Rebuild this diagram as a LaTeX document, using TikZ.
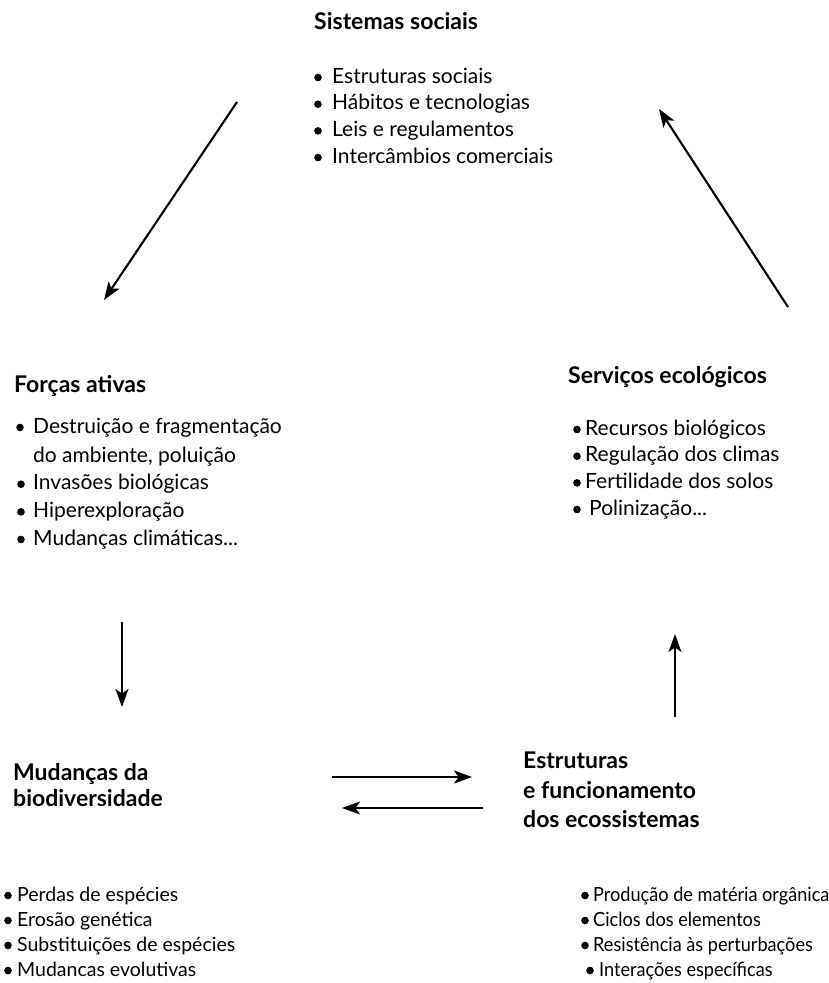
\documentclass[tikz,border=0pt]{standalone}
\usepackage{fontspec}
\setmainfont{Lato}
\newfontfamily\estreita[FakeStretch=0.93]{Lato}
\usepackage{tikz}
\usetikzlibrary{arrows.meta}
\tikzstyle{every node}=[font=\fontsize{21}{25}\selectfont, inner sep=0pt, anchor=base west]
\tikzstyle{titulo}=[font=\fontsize{23}{27}\selectfont\bfseries]
\tikzstyle{rodape}=[font=\fontsize{19.5}{23}\selectfont]
\tikzstyle{rodapeb}=[font=\fontsize{19.5}{23}\estreita]
\tikzstyle{seta}=[line width=2.1pt, -{Stealth[length=18pt,width=13pt,inset=4.5pt]}]

\begin{document}
\begin{tikzpicture}[x=1pt,y=-1pt]
            \useasboundingbox (0,0) rectangle (829,983);
            \def\rb{3.8pt}

            \node[titulo] (sist) at (314,29) {Sistemas sociais};
            \foreach \txt [count=\i] in {Estruturas sociais, Hábitos e tecnologias, Leis e regulamentos, Intercâmbios comerciais}{
                \node (sist\i) at (332,56.3+26.7*\i) {\txt};
                \fill (318,50.8+26.7*\i) circle (\rb);
            }

            \node[titulo] (forc) at (14,392) {Forças ativas};
            \node (forc1) at (33,433) {Destruição e fragmentação};
            \node (forc1b) at (33,462) {do ambiente, poluição};
            \fill (20,427.5) circle (\rb);
            \foreach \txt [count=\i from 2] in {Invasões biológicas, Hiperexploração}{
                \node (forc\i) at (33,434.3+27.7*\i) {\txt};
                \fill (21,428.8+27.7*\i) circle (\rb);
            }
            \node (forc4) at (33,545) {Mudanças climáticas...};
            \fill (21,539.5) circle (\rb);

            \node[titulo] (serv) at (568,383) {Serviços ecológicos};
            \foreach \txt [count=\i] in {Recursos biológicos, Regulação dos climas, Fertilidade dos solos}{
                \node (serv\i) at (585,408.3+26.7*\i) {\txt};
                \fill (577,402.8+26.7*\i) circle (\rb);
            }
            \node (serv4) at (589,515) {Polinização...};
            \fill (577,509.5) circle (\rb);

            \node[titulo] (mud1) at (13,780) {Mudanças da};
            \node[titulo] (mud2) at (13,806) {biodiversidade};

            \node[titulo] (estr1) at (523,768) {Estruturas};
            \node[titulo] (estr2) at (523,798) {e funcionamento};
            \node[titulo] (estr3) at (523,827) {dos ecossistemas};

            \foreach \txt [count=\i] in {Perdas de espécies, Erosão genética, Substituições de espécies, Mudancas evolutivas}{
                \node[rodape] (perd\i) at (17,876+25*\i) {\txt};
                \fill (8,870.5+25*\i) circle (\rb);
            }

            \foreach \txt [count=\i] in {Produção de matéria orgânica, Ciclos dos elementos, Resistência às perturbações}{
                \node[rodapeb] (prod\i) at (593,876+25*\i) {\txt};
                \fill (585,870.5+25*\i) circle (\rb);
            }
            \node[rodapeb] (prod4) at (599,976) {Interações específicas};
            \fill (590,970.5) circle (\rb);

            \coordinate (A) at (237,102);
            \coordinate (B) at (104,300);
            \coordinate (C) at (788,307);
            \coordinate (D) at (659,109);
            \coordinate (E) at (122,622);
            \coordinate (F) at (122,707);
            \coordinate (G) at (675,717);
            \coordinate (H) at (675,634);
            \coordinate (I) at (332,777);
            \coordinate (J) at (472,777);
            \coordinate (K) at (483,808);
            \coordinate (L) at (342,808);

            \draw[seta] (A) -- (B);
            \draw[seta] (C) -- (D);
            \draw[seta] (E) -- (F);
            \draw[seta] (G) -- (H);
            \draw[seta] (I) -- (J);
            \draw[seta] (K) -- (L);
        \end{tikzpicture}
\end{document}
